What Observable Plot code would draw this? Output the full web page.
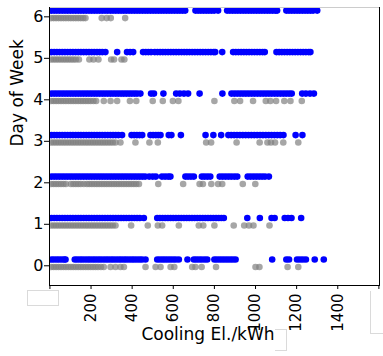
<!DOCTYPE html>
<html><head><meta charset="utf-8">
<script src="https://cdn.jsdelivr.net/npm/d3@7"></script>
<script src="https://cdn.jsdelivr.net/npm/@observablehq/plot@0.6"></script>
<style>
body{margin:0;background:#fff;}
#wrap{position:relative;width:383px;height:356px;overflow:hidden;}
.box{position:absolute;background:#fff;box-sizing:border-box;}
</style>
</head><body><div id="wrap"></div>
<script>
// Day-of-week categories and tick labels
const days = [0, 1, 2, 3, 4, 5, 6];
const xTicks = [0, 200, 400, 600, 800, 1000, 1200, 1400, 1600];
const xTickLabels = [200, 400, 600, 800, 1000, 1200, 1400];

// Blue series (Cooling El./kWh values per day)
const blue0 = [8,20,33,45,58,70,76,121,133,146,158,171,184,196,209,221,234,246,259,272,284,297,309,322,335,347,360,372,385,398,410,423,436,448,465,522,535,548,560,573,586,599,612,627,669,700,712,725,738,752,765,800,812,825,838,851,864,877,890,903,1081,1150,1163,1202,1216,1230,1245,1288,1332];
const blue1 = [8,21,34,47,60,73,86,99,112,125,138,151,164,177,190,203,216,229,242,255,268,281,294,307,320,333,346,359,372,385,398,411,424,437,457,522,535,548,561,574,587,600,613,626,639,652,665,678,691,704,717,730,743,756,769,782,795,808,821,834,846,960,1021,1078,1093,1142,1158,1175,1222];
const blue2 = [8,21,34,47,60,73,86,99,112,125,138,151,164,177,190,203,216,229,242,255,268,281,294,307,320,333,346,359,372,385,398,411,424,437,450,463,483,500,515,545,560,575,586,659,672,686,700,739,752,766,780,826,840,854,868,882,897,911,962,976,990,1004,1018,1032,1046,1065];
const blue3 = [8,21,34,47,60,73,86,99,112,125,138,151,164,177,190,203,216,229,242,255,268,281,294,307,320,333,351,397,410,423,436,449,489,502,515,527,538,578,591,637,757,795,833,868,882,896,910,924,938,952,966,980,994,1008,1022,1036,1050,1064,1078,1092,1106,1120,1136,1195,1228];
const blue4 = [8,21,34,47,60,73,86,99,112,125,138,151,164,177,190,203,216,229,242,255,268,281,294,307,320,333,346,359,372,385,398,411,424,440,492,506,552,614,632,652,672,728,839,883,897,911,925,939,953,967,981,995,1009,1023,1037,1051,1065,1079,1093,1107,1121,1135,1149,1163,1176,1227,1245,1265,1284];
const blue5 = [8,21,34,47,60,73,86,99,112,125,138,151,164,177,190,203,216,229,242,255,270,327,375,390,405,453,466,479,492,510,523,536,549,562,575,588,601,614,627,640,653,666,679,692,705,718,731,744,757,770,783,796,804,838,891,904,917,930,943,956,969,982,995,1008,1021,1034,1045,1102,1115,1128,1141,1154,1167,1180,1193,1206,1219,1232,1245,1258,1267];
const blue6 = [8,21,34,47,60,73,86,99,112,125,138,151,164,177,190,203,216,229,242,255,268,281,294,307,320,333,346,359,372,385,398,411,424,437,450,463,476,489,502,515,528,541,554,567,580,593,606,619,632,645,658,708,721,734,747,760,773,786,799,818,862,875,888,901,914,927,940,953,966,979,992,1005,1018,1031,1044,1057,1070,1083,1096,1105,1150,1163,1176,1189,1202,1215,1228,1241,1254,1267,1280,1300];

// Grey series (Cooling El./kWh values per day)
const grey0 = [6,18,30,42,54,66,78,90,102,114,126,138,150,162,174,186,198,210,222,234,248,262,295,319,343,360,465,514,538,587,605,692,708,738,808,1000,1019,1156,1208];
const grey1 = [6,18,30,42,54,66,78,90,102,114,126,138,150,162,174,186,198,210,222,234,246,258,270,282,294,306,319,395,476,525,546,627,724,746,800,894,945,968,990,1068];
const grey2 = [6,18,30,42,54,66,78,102,114,126,138,150,165,180,192,204,216,228,240,252,264,276,288,300,312,324,336,348,360,372,384,396,408,420,433,527,648,728,744,785,818,838,938,999];
const grey3 = [6,18,30,42,54,66,78,90,102,114,126,138,150,162,174,186,198,210,222,234,246,258,270,282,294,306,319,343,416,484,525,760,784,908,1020,1058,1075,1095,1135,1208];
const grey4 = [6,18,30,42,54,66,78,90,102,114,126,138,150,162,174,186,198,212,225,262,295,327,389,420,500,549,598,625,800,897,925,988,1050,1072,1100,1140,1170,1225];
const grey5 = [6,18,30,42,54,66,78,90,102,114,126,141,192,212,236,298,312,348,362];
const grey6 = [6,18,30,42,54,66,78,90,102,114,126,138,150,162,173,252,276,296,366];

const blueByDay = [blue0, blue1, blue2, blue3, blue4, blue5, blue6];
const greyByDay = [grey0, grey1, grey2, grey3, grey4, grey5, grey6];

const greyData = days.flatMap(d => greyByDay[d].map(v => ({x: v, day: d})));
const blueData = days.flatMap(d => blueByDay[d].map(v => ({x: v, day: d})));

const chart = Plot.plot({
  width: 383,
  height: 356,
  marginLeft: 49,
  marginRight: 4,
  marginTop: 7,
  marginBottom: 71,
  style: {fontFamily: "DejaVu Sans", background: "white", overflow: "visible"},
  x: {domain: [-2, 1603]},
  y: {domain: [-0.475, 6.225]},
  marks: [
    Plot.dot(greyData, {x: "x", y: d => d.day - 0.03, r: 3.3, fill: "#808080", fillOpacity: 0.7, stroke: null, clip: true}),
    Plot.dot(blueData, {x: "x", y: d => d.day + 0.15, r: 3.3, fill: "#0000ff", stroke: null, clip: true}),
    Plot.frame({anchor: "top", stroke: "#cccccc"}),
    Plot.frame({anchor: "left", stroke: "black"}),
    Plot.frame({anchor: "bottom", stroke: "black"}),
    Plot.frame({anchor: "right", stroke: "black"}),
    Plot.axisY({ticks: days, tickSize: 5, tickPadding: 1, fontSize: 16, label: null, tickFormat: d => String(d)}),
    Plot.axisX({ticks: xTicks, tickFormat: d => xTickLabels.includes(d) ? String(d) : "", tickRotate: -90, tickSize: 4, tickPadding: 4, fontSize: 15, label: null}),
    Plot.text(["Day of Week"], {frameAnchor: "left", dx: -32, rotate: -90, fontSize: 17, fill: "black"}),
    Plot.text(["Cooling El./kWh"], {frameAnchor: "bottom", dx: -6.5, dy: 54.6, fontSize: 17, fill: "black"})
  ]
});
const wrap = document.getElementById("wrap");
wrap.appendChild(chart);

// light bordered masking boxes seen in the reference
function box(l, t, w, h, border) {
  const b = document.createElement("div");
  b.className = "box";
  Object.assign(b.style, {left: l + "px", top: t + "px", width: w + "px", height: h + "px"}, border);
  wrap.appendChild(b);
}
box(27, 290, 32, 16, {border: "1px solid #dadada"});
box(370, 291, 20, 43, {borderLeft: "1px solid #dadada", borderBottom: "1px solid #dadada"});
box(275, 329, 12, 22, {borderTop: "1px solid #dadada", borderRight: "1px solid #dadada", borderBottom: "1px solid #dadada", background: "transparent"});
</script></body></html>
